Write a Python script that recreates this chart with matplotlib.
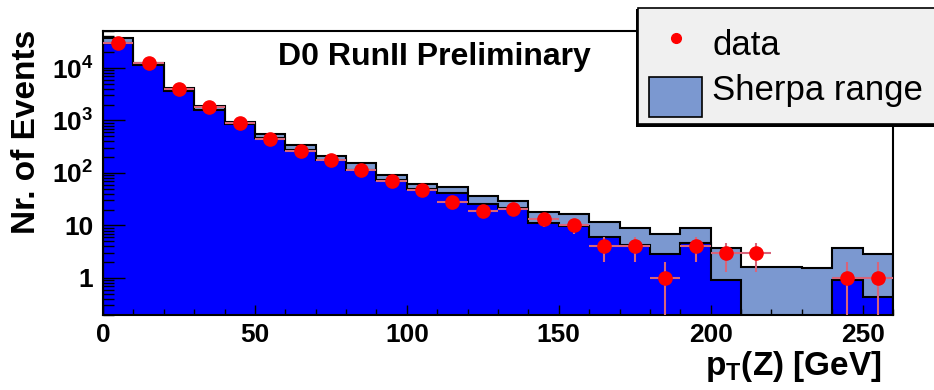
import numpy as np
import matplotlib
matplotlib.use("Agg")
import matplotlib.pyplot as plt
from matplotlib.patches import Rectangle
from matplotlib.lines import Line2D
from matplotlib.ticker import FixedLocator, FixedFormatter, LogLocator, NullFormatter, MultipleLocator

plt.rcParams['font.family'] = ['Liberation Sans', 'DejaVu Sans']
plt.rcParams['mathtext.fontset'] = 'custom'
plt.rcParams['mathtext.rm'] = 'Liberation Sans'
plt.rcParams['mathtext.bf'] = 'Liberation Sans:bold'

# bin edges of pT(Z) in GeV
bin_edges = list(range(0, 261, 10))

# Sherpa range: upper and lower edge per bin
sherpa_up = [38000, 12600, 4100, 1890, 950, 553, 340, 214, 157, 90, 62, 53, 36.5,
             29.7, 18.1, 16.5, 11.5, 9.1, 7.0, 8.8, 3.8, 1.64, 1.64, 1.57, 3.8, 2.86]
sherpa_lo = [29500, 11500, 3640, 1590, 845, 464, 274, 180, 112, 73, 49, 41, 25.7,
             21.2, 11.0, 9.6, 6.1, 4.3, 2.83, 4.6, 0.92, 0, 0, 0, 0.92, 0.44]

# data points
data_pt = [5, 15, 25, 35, 45, 55, 65, 75, 85, 95, 105, 115, 125, 135, 145, 155,
           165, 175, 185, 195, 205, 215, 245, 255]
data_n = [30300, 12300, 3980, 1780, 885, 450, 266, 177, 114, 70, 47, 28, 19, 21,
          13, 10, 4, 4, 1, 4, 3, 3, 1, 1]
data_err = [174, 111, 63, 42, 30, 21, 16, 13, 11, 8.4, 6.9, 5.3, 4.4, 4.6,
            3.6, 3.2, 2, 2, 1, 2, 1.7, 1.7, 1, 1]

y_ticks = [1, 10, 100, 1000, 10000]
y_labels = ['1', '10', r'$\mathbf{10^{2}}$', r'$\mathbf{10^{3}}$', r'$\mathbf{10^{4}}$']

light_blue = '#7b98d0'
err_col = '#d8647a'
floor = 1e-3

fig = plt.figure(figsize=(9.34, 3.9), dpi=100)
ax = fig.add_axes([103/934, 1-315/390, 790/934, 284/390])
ax.set_yscale('log')
ax.set_axisbelow(False)

lo = np.where(np.array(sherpa_lo) > 0, sherpa_lo, floor)
ax.stairs(sherpa_up, bin_edges, baseline=floor, fill=True, color=light_blue, zorder=1)
ax.stairs(lo, bin_edges, baseline=floor, fill=True, color='#0000ff', zorder=1.2)
ax.stairs(sherpa_up, bin_edges, baseline=floor, color='black', lw=1.5, zorder=1.5)
ax.stairs(lo, bin_edges, baseline=floor, color='black', lw=1.5, zorder=1.5)

ax.errorbar(data_pt, data_n, xerr=5, yerr=data_err, fmt='o', color='red',
            ms=9.5, ecolor=err_col, elinewidth=1.5, capsize=0, zorder=5)

ax.set_xlim(0, 260)
ax.set_ylim(0.197, 50700)

ax.yaxis.set_major_locator(FixedLocator(y_ticks))
ax.yaxis.set_major_formatter(FixedFormatter(y_labels))
ax.yaxis.set_minor_locator(LogLocator(base=10, subs=np.arange(2, 10), numticks=20))
ax.yaxis.set_minor_formatter(NullFormatter())
ax.xaxis.set_major_locator(MultipleLocator(50))
ax.xaxis.set_minor_locator(MultipleLocator(10))

ax.tick_params(axis='both', which='both', direction='in', top=False, right=False)
ax.tick_params(axis='y', which='major', length=16, width=1, pad=7, labelsize=19)
ax.tick_params(axis='y', which='minor', length=8, width=1)
ax.tick_params(axis='x', which='major', length=7, width=1, pad=6, labelsize=19)
ax.tick_params(axis='x', which='minor', length=4, width=1)
for lab in ax.get_xticklabels() + ax.get_yticklabels():
    lab.set_fontweight('bold')
for sp in ax.spines.values():
    sp.set_linewidth(1.5)

fig.text(27/934, 1-30/390, 'Nr. of Events', rotation=90, ha='center', va='top',
         fontsize=24, fontweight='bold')
fig.text(882/934, 1-375/390, r'p$_\mathbf{T}$(Z) [GeV]', ha='right', va='baseline',
         fontsize=24, fontweight='bold')
fig.text(278/934, 1-65/390, 'D0 RunII Preliminary', ha='left', va='baseline',
         fontsize=23, fontweight='bold')

# legend box, cut by the right edge of the picture
W, H = 934, 390
fig.add_artist(Rectangle((636/W, 1-127/H), 330/W, 118/H, transform=fig.transFigure,
                         facecolor='black', edgecolor='none', zorder=10))
fig.add_artist(Rectangle((638/W, 1-124/H), 330/W, 116/H, transform=fig.transFigure,
                         facecolor='#f0f0f0', edgecolor='black', lw=1.2, zorder=11))
fig.add_artist(Line2D([676/W], [1-38/H], transform=fig.transFigure, marker='o',
                      color='red', ms=7, ls='none', zorder=12))
fig.text(712/W, 1-55/H, 'data', fontsize=25, ha='left', va='baseline', zorder=12)
fig.add_artist(Rectangle((649/W, 1-117/H), 53/W, 40/H, transform=fig.transFigure,
                         facecolor=light_blue, edgecolor='black', lw=1.2, zorder=12))
fig.text(712/W, 1-100/H, 'Sherpa range', fontsize=25, ha='left', va='baseline', zorder=12)

fig.savefig('out.png', dpi=100)
